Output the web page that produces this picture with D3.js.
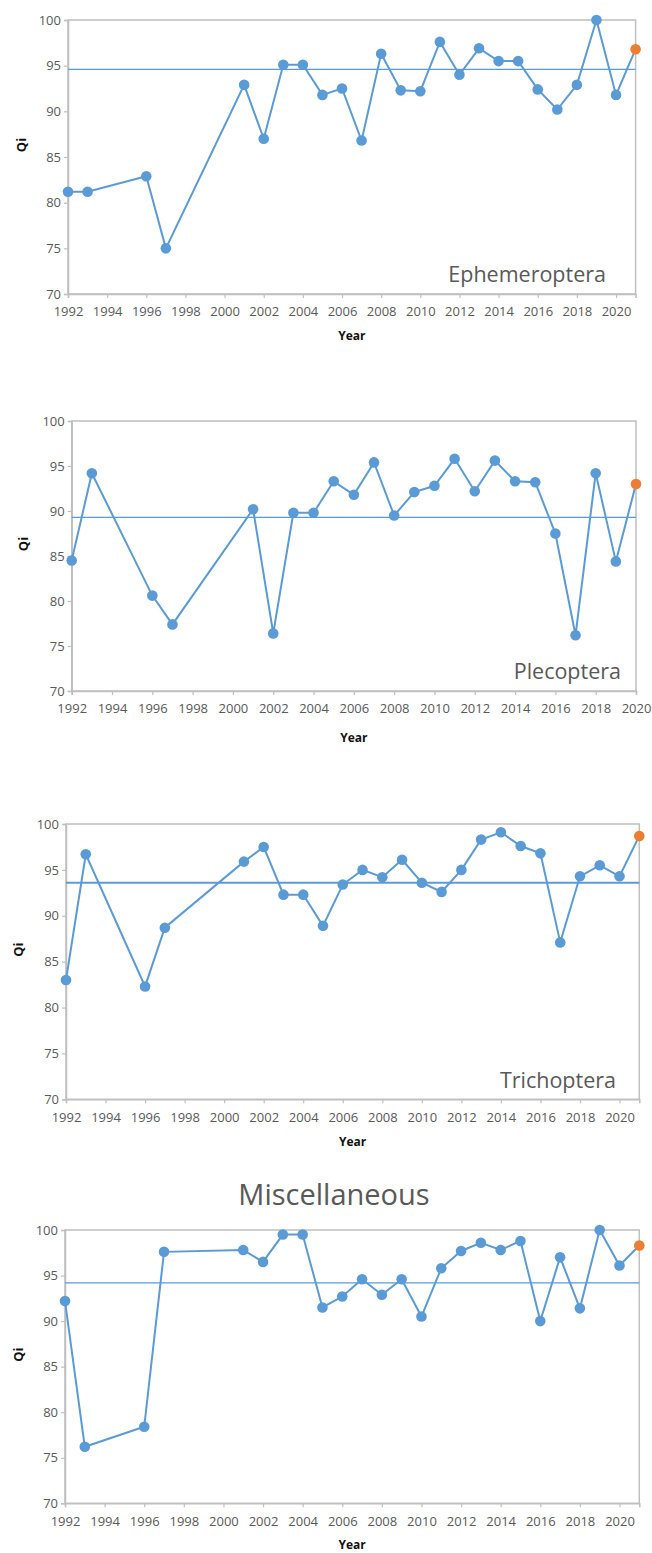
<!DOCTYPE html>
<html>
<head>
<meta charset="utf-8">
<script src="https://cdn.jsdelivr.net/npm/d3@7"></script>
<style>
  body { margin: 0; background: #fff; }
  text { font-family: "Open Sans", sans-serif; }
</style>
</head>
<body>
<div id="chart"></div>
<script>
// data
var ephemYears = [1992,1993,1996,1997,2001,2002,2003,2004,2005,2006,2007,2008,2009,2010,2011,2012,2013,2014,2015,2016,2017,2018,2019,2020,2021];
var ephemValues = [81.2,81.2,82.9,75.0,92.9,87.0,95.1,95.1,91.8,92.5,86.8,96.3,92.3,92.2,97.6,94.0,96.9,95.5,95.5,92.4,90.2,92.9,100.0,91.8,96.8];
var ephemAverage = 94.6;

var pleYears = [1992,1993,1996,1997,2001,2002,2003,2004,2005,2006,2007,2008,2009,2010,2011,2012,2013,2014,2015,2016,2017,2018,2019,2020];
var pleValues = [84.5,94.2,80.6,77.4,90.2,76.4,89.8,89.8,93.3,91.8,95.4,89.5,92.1,92.8,95.8,92.2,95.6,93.3,93.2,87.5,76.2,94.2,84.4,93.0];
var pleAverage = 89.3;

var triYears = [1992,1993,1996,1997,2001,2002,2003,2004,2005,2006,2007,2008,2009,2010,2011,2012,2013,2014,2015,2016,2017,2018,2019,2020,2021];
var triValues = [83.0,96.7,82.3,88.7,95.9,97.5,92.3,92.3,88.9,93.4,95.0,94.2,96.1,93.6,92.6,95.0,98.3,99.1,97.6,96.8,87.1,94.3,95.5,94.3,98.7];
var triAverage = 93.6;

var miscYears = [1992,1993,1996,1997,2001,2002,2003,2004,2005,2006,2007,2008,2009,2010,2011,2012,2013,2014,2015,2016,2017,2018,2019,2020,2021];
var miscValues = [92.2,76.2,78.4,97.6,97.8,96.5,99.5,99.5,91.5,92.7,94.6,92.9,94.6,90.5,95.8,97.7,98.6,97.8,98.8,90.0,97.0,91.4,100.0,96.1,98.3];
var miscAverage = 94.2;

var yTicks = [70,75,80,85,90,95,100];
var xTicks = [1992,1994,1996,1998,2000,2002,2004,2006,2008,2010,2012,2014,2016,2018,2020];

var blue = "#5b9bd5", orange = "#ed7d31", grey = "#bfbfbf", labelGrey = "#595959";

var svg = d3.select("#chart").append("svg")
  .attr("width", 652)
  .attr("height", 1553);

// panel layout (positions only)
var panels = [
  {years: ephemYears, values: ephemValues, avg: ephemAverage, name: "Ephemeroptera",
   left: 68, right: 635.6, top: 20, bottom: 294, xMax: 2021, avgWidth: 1.2,
   nameX: 606, nameY: 282, nameSize: 21.5, inside: true, yearY: 340, qiX: 21},
  {years: pleYears, values: pleValues, avg: pleAverage, name: "Plecoptera",
   left: 71.7, right: 636, top: 421, bottom: 691, xMax: 2020, avgWidth: 1.2,
   nameX: 621, nameY: 679, nameSize: 21.5, inside: true, yearY: 742, qiX: 23},
  {years: triYears, values: triValues, avg: triAverage, name: "Trichoptera",
   left: 66, right: 639.3, top: 824, bottom: 1099.3, xMax: 2021, avgWidth: 2,
   nameX: 616, nameY: 1088, nameSize: 21.5, inside: true, yearY: 1146, qiX: 18},
  {years: miscYears, values: miscValues, avg: miscAverage, name: "Miscellaneous",
   left: 65, right: 639.3, top: 1230, bottom: 1503.3, xMax: 2021, avgWidth: 1.2,
   nameX: 334, nameY: 1205, nameSize: 29, inside: false, yearY: 1549, qiX: 18}
];

panels.forEach(drawPanel);

function drawPanel(p){
  var x = d3.scaleLinear().domain([1992, p.xMax]).range([p.left, p.right]);
  var y = d3.scaleLinear().domain([70, 100]).range([p.bottom, p.top]);

  var g = svg.append("g");

  // frame
  g.append("rect")
    .attr("x", p.left).attr("y", p.top)
    .attr("width", p.right - p.left).attr("height", p.bottom - p.top)
    .attr("fill", "none").attr("stroke", grey).attr("stroke-width", 1.5);

  var yAxis = d3.axisLeft(y).tickValues(yTicks).tickSize(4).tickPadding(3);
  var yg = g.append("g").attr("transform", "translate(" + p.left + ",0)").call(yAxis);
  var xAxis = d3.axisBottom(x).tickValues(xTicks).tickFormat(d3.format("d")).tickSize(4).tickPadding(9);
  var xg = g.append("g").attr("transform", "translate(0," + p.bottom + ")").call(xAxis);

  [yg, xg].forEach(function(a){
    a.select(".domain").attr("stroke", grey).attr("stroke-width", 1.5);
    a.selectAll(".tick line").attr("stroke", grey).attr("stroke-width", 1.2);
    a.selectAll(".tick text").attr("fill", labelGrey)
      .style("font-size", "13px").style("font-family", "'Open Sans', sans-serif");
  });

  // average line
  g.append("line")
    .attr("x1", p.left).attr("x2", p.right)
    .attr("y1", y(p.avg)).attr("y2", y(p.avg))
    .attr("stroke", blue).attr("stroke-width", p.avgWidth);

  var pts = p.years.map(function(d, i){ return {year: d, value: p.values[i]}; });

  var line = d3.line()
    .x(function(d){ return x(d.year); })
    .y(function(d){ return y(d.value); });

  g.append("path")
    .attr("d", line(pts))
    .attr("fill", "none")
    .attr("stroke", blue)
    .attr("stroke-width", 2);

  g.selectAll(".dot")
    .data(pts)
    .enter()
    .append("circle")
    .attr("cx", function(d){ return x(d.year); })
    .attr("cy", function(d){ return y(d.value); })
    .attr("r", 5.3)
    .attr("fill", function(d, i){ return i == pts.length - 1 ? orange : blue; });

  // labels
  g.append("text")
    .attr("x", p.nameX).attr("y", p.nameY)
    .attr("text-anchor", p.inside ? "end" : "middle")
    .attr("fill", labelGrey)
    .style("font-size", p.nameSize + "px")
    .text(p.name);

  g.append("text")
    .attr("x", (p.left + p.right) / 2).attr("y", p.yearY)
    .attr("text-anchor", "middle")
    .attr("fill", "#111")
    .style("font-size", "12px").style("font-weight", "bold")
    .text("Year");

  g.append("text")
    .attr("transform", "translate(" + (p.qiX + 5) + "," + ((p.top + p.bottom) / 2 - 12) + ") rotate(-90)")
    .attr("text-anchor", "middle")
    .attr("fill", "#111")
    .style("font-size", "13px").style("font-weight", "bold")
    .text("Qi");
}
</script>
</body>
</html>
